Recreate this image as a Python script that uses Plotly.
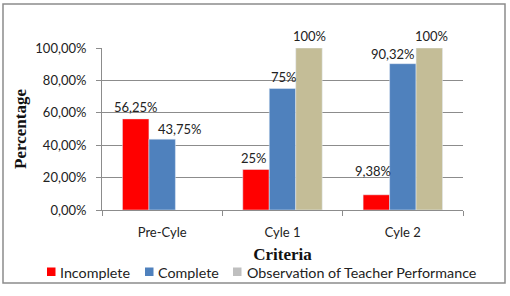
import plotly.graph_objects as go

categories = ["Pre-Cyle", "Cyle 1", "Cyle 2"]
incomplete = [56.25, 25, 9.38]
complete = [43.75, 75, 90.32]
observation = [None, 100, 100]
incomplete_labels = ["56,25%", "25%", "9,38%"]
complete_labels = ["43,75%", "75%", "90,32%"]
observation_labels = ["", "100%", "100%"]
series_names = ["Incomplete", "Complete", "Observation of Teacher Performance"]
y_tickvals = [0, 20, 40, 60, 80, 100]
y_ticktext = ["0,00%", "20,00%", "40,00%", "60,00%", "80,00%", "100,00%"]

RED = "#ff0000"
BLUE = "#4f81bd"
TAN = "#c4bd97"
LEG_GREY = "#bfbfbf"
FONT = "Lato, Open Sans, sans-serif"
SERIF = "Liberation Serif, Times New Roman, serif"

fig = go.Figure()
for name, vals, col in zip(series_names, [incomplete, complete, observation],
                           [RED, BLUE, TAN]):
    fig.add_trace(go.Bar(x=categories, y=vals, name=name, marker_color=col,
                         showlegend=False, hoverinfo="skip"))

# bar value labels (style tweaks only: per-series slot offset, small nudges)
slot = 26.3
label_sets = [
    (incomplete, incomplete_labels, -slot, [0, -2, -4], [2, 2, 14]),
    (complete, complete_labels, 0, [18, 1, -10], [0, 2, 0]),
    (observation, observation_labels, slot, [0, 1, 2], [2, 2, 2]),
]
for vals, labels, off, dx, dy in label_sets:
    for i, (v, t) in enumerate(zip(vals, labels)):
        if v is None or not t:
            continue
        fig.add_annotation(x=categories[i], y=v, text=t, showarrow=False,
                           xshift=off + dx[i], yshift=dy[i], yanchor="bottom",
                           font=dict(family=FONT, size=13, color="#222"))

# legend drawn as layout items (plot area: x 102..463 px, y 48..210 px)
def px_x(p):
    return (p - 102) / 361.0


def px_y(p):
    return (210 - p) / 162.0


legend_sq_left = [47, 145, 233]
legend_txt_left = [60, 158, 247]
legend_cols = [RED, BLUE, LEG_GREY]
leg_y = 272
for name, sq, tx, col in zip(series_names, legend_sq_left, legend_txt_left, legend_cols):
    fig.add_shape(type="rect", xref="paper", yref="paper",
                  x0=px_x(sq), x1=px_x(sq + 8.5), y0=px_y(leg_y - 4.5), y1=px_y(leg_y + 4),
                  line=dict(width=0), fillcolor=col)
    fig.add_annotation(xref="paper", yref="paper", x=px_x(tx), y=px_y(leg_y),
                       text=name, showarrow=False, xanchor="left", yanchor="middle",
                       xshift=-2,
                       font=dict(family=FONT, size=14.3, color="#222"))

fig.add_shape(type="rect", xref="paper", yref="paper",
              x0=px_x(3), x1=px_x(505), y0=px_y(4), y1=px_y(283),
              line=dict(color="#8c8c8c", width=1.5), fillcolor="rgba(0,0,0,0)")

fig.update_layout(
    width=510, height=296,
    margin=dict(l=102, r=47, t=48, b=86, autoexpand=False),
    paper_bgcolor="white", plot_bgcolor="white",
    barmode="group", bargap=0.34, bargroupgap=0,
    showlegend=False,
    font=dict(family=FONT, size=12, color="#222"),
    xaxis=dict(
        showline=True, linecolor="#8c8c8c", linewidth=1,
        ticks="outside", tickson="boundaries", ticklen=5, tickcolor="#8c8c8c",
        ticklabelstandoff=10,
        tickfont=dict(family=FONT, size=13, color="#222"),
        title=dict(text="<b>Criteria</b>", standoff=9,
                   font=dict(family=SERIF, size=17, color="#111")),
    ),
    yaxis=dict(
        range=[0, 100], tickvals=y_tickvals, ticktext=y_ticktext,
        showline=True, linecolor="#8c8c8c", linewidth=1,
        ticks="outside", ticklen=5, tickcolor="#8c8c8c",
        ticklabelstandoff=7,
        showgrid=True, gridcolor="#8c8c8c", gridwidth=1,
        zeroline=False,
        tickfont=dict(family=FONT, size=13, color="#222"),
        title=dict(text="<b>Percentage</b>", standoff=4,
                   font=dict(family=SERIF, size=17, color="#111")),
    ),
)

fig.write_html("out.html")
